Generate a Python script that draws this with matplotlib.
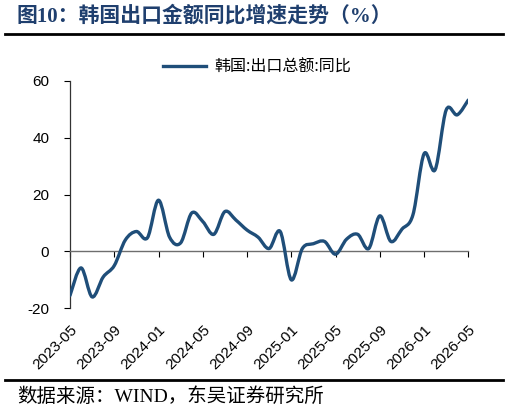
import numpy as np
import matplotlib
matplotlib.use("Agg")
import matplotlib.pyplot as plt
from matplotlib.path import Path
from matplotlib.patches import PathPatch
from matplotlib.lines import Line2D

plt.rcParams['font.family'] = ['Liberation Sans', 'Noto Sans CJK SC']

# ---- data ----
months = [f"{y}-{m:02d}" for y, m in
          [(2023, m) for m in range(5, 13)] + [(2024, m) for m in range(1, 13)] +
          [(2025, m) for m in range(1, 13)] + [(2026, m) for m in range(1, 6)]]
export_yoy = [-15.5, -5.8, -16.0, -9.0, -5.0, 4.0, 7.0, 4.8, 18.0, 5.0,
              3.0, 13.5, 10.5, 6.0, 14.0, 11.0, 7.5, 5.0, 1.0, 7.0,
              -10.0, 1.0, 2.7, 3.5, -1.0, 4.3, 6.0, 1.0, 12.5, 3.5,
              7.8, 12.9, 34.3, 28.7, 49.7, 48.0, 53.2]
series_name = "韩国:出口总额:同比"
title = "图10：韩国出口金额同比增速走势（%）"
source = "数据来源：WIND，东吴证券研究所"
yticks = [-20, 0, 20, 40, 60]

LINE_C = "#1F4E79"
TITLE_C = "#1F3F6E"

fig = plt.figure(figsize=(5.10, 4.13), dpi=100)
ax = fig.add_axes([70/510, 1-308.3/413, (468.3-70)/510, (308.3-80.7)/413])

x = np.arange(len(export_yoy), dtype=float)
y = np.array(export_yoy, dtype=float)

# smoothed line (Excel-style Bezier through each data point)
verts = [(x[0], y[0])]
codes = [Path.MOVETO]
n = len(x)
for i in range(n - 1):
    p0 = np.array([x[max(i-1, 0)], y[max(i-1, 0)]])
    p1 = np.array([x[i], y[i]])
    p2 = np.array([x[i+1], y[i+1]])
    p3 = np.array([x[min(i+2, n-1)], y[min(i+2, n-1)]])
    c1 = p1 + (p2 - p0) / 6.0
    c2 = p2 - (p3 - p1) / 6.0
    verts += [tuple(c1), tuple(c2), tuple(p2)]
    codes += [Path.CURVE4] * 3
patch = PathPatch(Path(verts, codes), facecolor='none', edgecolor=LINE_C,
                  lw=2.4, capstyle='round', joinstyle='round', zorder=3)
ax.add_patch(patch)

ax.set_xlim(0, len(x) - 1)
ax.set_ylim(-20, 60)
ax.set_yticks(yticks)
ax.set_yticklabels([str(v) for v in yticks], fontsize=11)
ax.tick_params(axis='y', direction='out', length=4, width=0.8, pad=11, colors='black')

for s in ['top', 'right']:
    ax.spines[s].set_visible(False)
ax.spines['left'].set_color('#333333')
ax.spines['left'].set_linewidth(0.9)
ax.spines['bottom'].set_position(('data', 0))
ax.spines['bottom'].set_color('#6e6e6e')
ax.spines['bottom'].set_linewidth(1.0)

tick_idx = list(range(0, len(months), 4))
ax.set_xticks(tick_idx)
ax.tick_params(axis='x', direction='out', length=4, width=0.8, labelbottom=False, colors='black')

sec = ax.secondary_xaxis('bottom')
sec.set_xticks(tick_idx)
sec.set_xticklabels([months[i] for i in tick_idx], rotation=45, ha='right',
                    rotation_mode='anchor', fontsize=11)
sec.tick_params(length=0, pad=10)
sec.spines['bottom'].set_visible(False)

handle = Line2D([], [], color=LINE_C, lw=2.4)
ax.legend([handle], [series_name], loc='center', bbox_to_anchor=(0.47, 1.06),
          frameon=False, handlelength=2.7, handletextpad=0.5,
          prop={'family': ['Noto Sans CJK SC'], 'size': 11.5})

fig.text(0.033, 0.962, title, fontsize=15, fontweight='bold', color=TITLE_C,
         family=['Liberation Serif', 'Noto Sans CJK SC'], ha='left', va='center')
fig.add_artist(Line2D([5/510, 503/510], [1-34/413, 1-34/413], color='black', lw=2.0))
fig.add_artist(Line2D([5/510, 503/510], [1-380/413, 1-380/413], color='black', lw=2.0))
fig.text(0.033, 1-397/413, source, fontsize=14, color='black',
         family=['Liberation Serif', 'Noto Sans CJK SC'], ha='left', va='center')

fig.savefig("out.png", dpi=100)
